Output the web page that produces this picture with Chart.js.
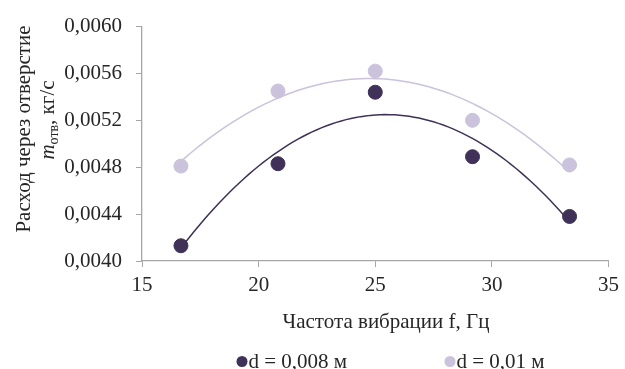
<!DOCTYPE html>
<html><head><meta charset="utf-8">
<script src="https://cdn.jsdelivr.net/npm/chart.js@4/dist/chart.umd.min.js"></script>
<style>html,body{margin:0;padding:0;background:#fff}#wrap{width:625px;height:369px}</style>
</head><body><div id="wrap"><canvas id="c" width="625" height="369"></canvas></div>
<script>
const frequencies = [16.67, 20.83, 25.0, 29.17, 33.33];
const flowD008 = [0.00413, 0.00483, 0.00544, 0.00489, 0.00438];
const flowD001 = [0.00481, 0.00545, 0.00562, 0.00520, 0.00482];
const seriesLabels = ['d = 0,008 м', 'd = 0,01 м'];
const xTicks = [15, 20, 25, 30, 35];
const yTicks = [0.0040, 0.0044, 0.0048, 0.0052, 0.0056, 0.0060];
const xTitle = 'Частота вибрации f, Гц';
const yTitleLine1 = 'Расход через отверстие';

const DARK = '#3f3157', LIGHT = '#cbc2dc', AXIS = '#a6a6a6';
const FONT = '"Liberation Serif", "Times New Roman", serif';
const FS = 21;

// quadratic least-squares trendline (as in the original spreadsheet's trendline)
function polyFit2(xs, ys) {
  let S = [0,0,0,0,0], T = [0,0,0];
  for (let i = 0; i < xs.length; i++) {
    let p = 1;
    for (let k = 0; k < 5; k++) { S[k] += p; if (k < 3) T[k] += p * ys[i]; p *= xs[i]; }
  }
  const A = [[S[0],S[1],S[2],T[0]],[S[1],S[2],S[3],T[1]],[S[2],S[3],S[4],T[2]]];
  for (let i = 0; i < 3; i++) {
    for (let j = i + 1; j < 3; j++) {
      const f = A[j][i] / A[i][i];
      for (let k = i; k < 4; k++) A[j][k] -= f * A[i][k];
    }
  }
  const c = [0,0,0];
  for (let i = 2; i >= 0; i--) {
    let s = A[i][3];
    for (let k = i + 1; k < 3; k++) s -= A[i][k] * c[k];
    c[i] = s / A[i][i];
  }
  return c;
}
function trend(xs, ys) {
  const c = polyFit2(xs, ys);
  const lo = Math.min(...xs), hi = Math.max(...xs), pts = [];
  for (let i = 0; i <= 80; i++) {
    const x = lo + (hi - lo) * i / 80;
    pts.push({x, y: c[0] + c[1]*x + c[2]*x*x});
  }
  return pts;
}
const toPts = (xs, ys) => xs.map((x, i) => ({x, y: ys[i]}));

const overlay = {
  id: 'overlay',
  afterDraw(chart) {
    const ctx = chart.ctx;
    ctx.save();
    ctx.fillStyle = '#262626';
    ctx.font = FS + 'px ' + FONT;
    ctx.textAlign = 'center';
    ctx.textBaseline = 'middle';
    ctx.fillText(xTitle, 386, 322);
    // y title
    ctx.save();
    ctx.translate(24, 129);
    ctx.rotate(-Math.PI / 2);
    ctx.fillText(yTitleLine1, 0, 0);
    ctx.restore();
    ctx.save();
    ctx.translate(47, 120);
    ctx.rotate(-Math.PI / 2);
    const p1 = 'm', p2 = 'отв', p3 = ', кг/с';
    ctx.font = 'italic ' + FS + 'px ' + FONT; const w1 = ctx.measureText(p1).width;
    ctx.font = '14px ' + FONT; const w2 = ctx.measureText(p2).width;
    ctx.font = FS + 'px ' + FONT; const w3 = ctx.measureText(p3).width;
    let x = -(w1 + w2 + w3) / 2;
    ctx.textAlign = 'left';
    ctx.textBaseline = 'alphabetic';
    ctx.font = 'italic ' + FS + 'px ' + FONT; ctx.fillText(p1, x, 7); x += w1;
    ctx.font = '14px ' + FONT; ctx.fillText(p2, x, 11); x += w2;
    ctx.font = FS + 'px ' + FONT; ctx.fillText(p3, x, 7);
    ctx.restore();
    // legend
    const items = [[DARK, seriesLabels[0], 242], [LIGHT, seriesLabels[1], 450]];
    ctx.textAlign = 'left';
    ctx.textBaseline = 'middle';
    ctx.font = FS + 'px ' + FONT;
    for (const [col, txt, cx] of items) {
      ctx.fillStyle = col;
      ctx.beginPath(); ctx.arc(cx, 361.5, 5.5, 0, Math.PI * 2); ctx.fill();
      ctx.fillStyle = '#262626';
      ctx.fillText(txt, cx + 6.5, 362);
    }
    ctx.restore();
  }
};

new Chart(document.getElementById('c'), {
  type: 'scatter',
  data: {
    datasets: [
      {label: seriesLabels[0], data: toPts(frequencies, flowD008), backgroundColor: DARK, borderColor: DARK, pointRadius: 7, pointHoverRadius: 7, order: 1},
      {label: seriesLabels[1], data: toPts(frequencies, flowD001), backgroundColor: LIGHT, borderColor: LIGHT, pointRadius: 7, pointHoverRadius: 7, order: 1},
      {type: 'line', label: 'trend1', data: trend(frequencies, flowD008), borderColor: DARK, borderWidth: 1.5, pointRadius: 0, fill: false, tension: 0, order: 2},
      {type: 'line', label: 'trend2', data: trend(frequencies, flowD001), borderColor: LIGHT, borderWidth: 1.5, pointRadius: 0, fill: false, tension: 0, order: 2}
    ]
  },
  options: {
    responsive: false,
    animation: false,
    devicePixelRatio: 1,
    layout: {padding: {top: 24, right: 13, left: 0, bottom: 0}},
    plugins: {legend: {display: false}, tooltip: {enabled: false}},
    scales: {
      x: {
        type: 'linear', min: 15, max: 35,
        afterBuildTicks: s => { s.ticks = xTicks.map(v => ({value: v})); },
        afterFit: s => { s.height = 108; },
        grid: {drawOnChartArea: false, drawTicks: true, tickLength: 6, color: AXIS},
        border: {display: true, color: AXIS, width: 1.3},
        ticks: {color: '#262626', font: {family: FONT, size: FS}, padding: 6, maxRotation: 0}
      },
      y: {
        min: 0.0040, max: 0.0060,
        afterBuildTicks: s => { s.ticks = yTicks.map(v => ({value: v})); },
        afterFit: s => { s.width = 142; },
        grid: {drawOnChartArea: false, drawTicks: true, tickLength: 6, color: AXIS},
        border: {display: true, color: AXIS, width: 1.3},
        ticks: {color: '#262626', font: {family: FONT, size: FS}, padding: 14,
          callback: v => v.toFixed(4).replace('.', ',')}
      }
    }
  },
  plugins: [overlay]
});
</script></body></html>
